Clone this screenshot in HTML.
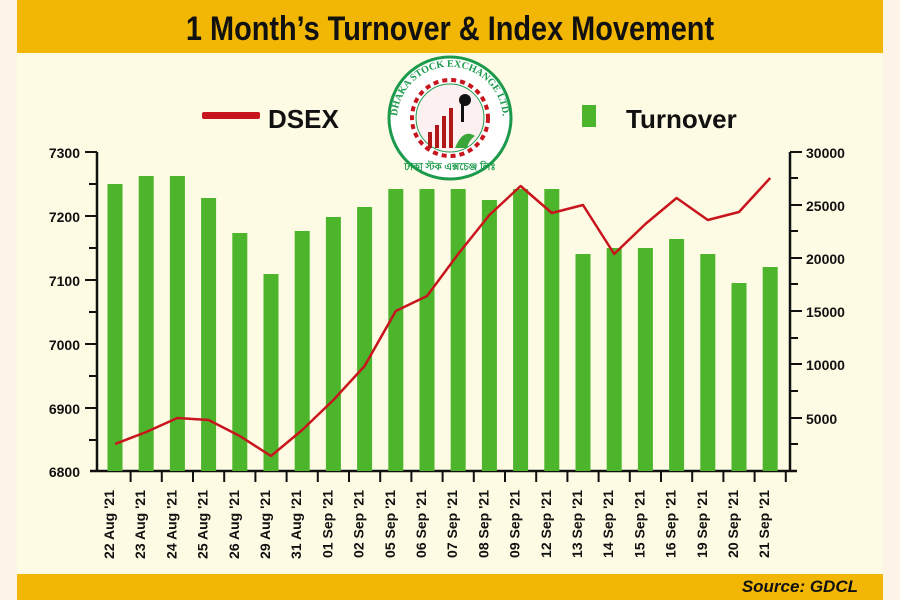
<!DOCTYPE html>
<html><head><meta charset="utf-8"><style>
html,body{margin:0;padding:0;background:#fdf3e6;}
svg{display:block;}
text{font-family:"Liberation Sans Narrow","Liberation Sans",sans-serif;font-weight:bold;}
</style></head><body>
<svg width="900" height="600" xmlns="http://www.w3.org/2000/svg">
<defs><path id="arc" d="M398 130 A53 53 0 1 1 502 130"/></defs>
<rect x="0" y="0" width="900" height="600" fill="#fdf3e6"/>
<rect x="17" y="0" width="866" height="600" fill="#fdfbe3"/>
<rect x="17" y="0" width="866" height="53" fill="#f2b705"/>
<text x="450" y="40" text-anchor="middle" font-size="34" fill="#111" transform="translate(450,0) scale(0.85,1) translate(-450,0)">1 Month’s Turnover &amp; Index Movement</text>
<rect x="17" y="574" width="866" height="26" fill="#f2b705"/>
<text x="858" y="592" text-anchor="end" font-size="17" font-style="italic" fill="#111">Source: GDCL</text>
<rect x="202" y="112" width="58" height="7" fill="#c8151d" rx="2"/>
<text x="268" y="128" font-size="26" fill="#111">DSEX</text>
<rect x="582" y="105" width="14" height="22" fill="#4db52b"/>
<text x="626" y="128" font-size="26" fill="#111">Turnover</text>
<g>
<circle cx="450" cy="118" r="61" fill="#fff" stroke="#1a9a4a" stroke-width="3"/>
<text font-size="10" fill="#1a9a4a" style="font-family:'Liberation Serif',serif"><textPath href="#arc" startOffset="50%" text-anchor="middle">DHAKA STOCK EXCHANGE LTD.</textPath></text>
<circle cx="450" cy="118" r="38" fill="none" stroke="#c8151d" stroke-width="4" stroke-dasharray="5 4"/>
<circle cx="450" cy="118" r="34" fill="#fdf0f0" stroke="#1a9a4a" stroke-width="1"/>
<text x="450" y="170" text-anchor="middle" font-size="10" fill="#1a9a4a">ঢাকা স্টক এক্সচেঞ্জ লিঃ</text>
<rect x="428" y="132" width="4" height="16" fill="#b01818"/>
<rect x="435" y="125" width="4" height="23" fill="#b01818"/>
<rect x="442" y="116" width="4" height="32" fill="#b01818"/>
<rect x="449" y="108" width="4" height="40" fill="#b01818"/>
<path d="M455 148 q8 -20 20 -12 q-6 4 -8 12z" fill="#3aa63a"/>
<rect x="461" y="100" width="3" height="22" fill="#111"/>
<circle cx="465" cy="100" r="6" fill="#111"/>
</g>
<g stroke="#111" stroke-width="2.5" fill="none">
<line x1="97" y1="152" x2="97" y2="472"/>
<line x1="790" y1="152" x2="790" y2="472"/>
<line x1="90" y1="471" x2="797" y2="471"/>
</g>
<g stroke="#111" stroke-width="2">
<line x1="85" y1="152" x2="97" y2="152"/><line x1="89" y1="184" x2="97" y2="184"/>
<line x1="85" y1="216" x2="97" y2="216"/><line x1="89" y1="248" x2="97" y2="248"/>
<line x1="85" y1="280" x2="97" y2="280"/><line x1="89" y1="312" x2="97" y2="312"/>
<line x1="85" y1="344" x2="97" y2="344"/><line x1="89" y1="376" x2="97" y2="376"/>
<line x1="85" y1="408" x2="97" y2="408"/><line x1="89" y1="440" x2="97" y2="440"/>
<line x1="790" y1="152" x2="802" y2="152"/><line x1="790" y1="178" x2="798" y2="178"/>
<line x1="790" y1="205" x2="802" y2="205"/><line x1="790" y1="231" x2="798" y2="231"/>
<line x1="790" y1="258" x2="802" y2="258"/><line x1="790" y1="284" x2="798" y2="284"/>
<line x1="790" y1="311" x2="802" y2="311"/><line x1="790" y1="338" x2="798" y2="338"/>
<line x1="790" y1="364" x2="802" y2="364"/><line x1="790" y1="391" x2="798" y2="391"/>
<line x1="790" y1="418" x2="802" y2="418"/><line x1="790" y1="444" x2="798" y2="444"/>
</g>
<g font-size="14" fill="#111" text-anchor="end">
<text x="80" y="158">7300</text><text x="80" y="222">7200</text><text x="80" y="286">7100</text>
<text x="80" y="350">7000</text><text x="80" y="414">6900</text><text x="80" y="477">6800</text>
</g>
<g font-size="14" fill="#111" text-anchor="start">
<text x="806" y="158">30000</text><text x="806" y="211">25000</text><text x="806" y="264">20000</text>
<text x="806" y="317">15000</text><text x="806" y="370">10000</text><text x="806" y="424">5000</text>
</g>
<g fill="#4db52b" id="bars"></g>
<g id="xt" stroke="#111" stroke-width="2"></g>
<g id="xl" font-size="14" fill="#111" text-anchor="end"></g>
<polyline id="ln" fill="none" stroke="#c8151d" stroke-width="2.5" stroke-linejoin="round"/>
<script>
var tops=[184,176,176,198,233,274,231,217,207,189,189,189,200,189,189,254,248,248,239,254,283,267];
var labs=["22 Aug '21","23 Aug '21","24 Aug '21","25 Aug '21","26 Aug '21","29 Aug '21","31 Aug '21","01 Sep '21","02 Sep '21","05 Sep '21","06 Sep '21","07 Sep '21","08 Sep '21","09 Sep '21","12 Sep '21","13 Sep '21","14 Sep '21","15 Sep '21","16 Sep '21","19 Sep '21","20 Sep '21","21 Sep '21"];
var ly=[444,432,418,420,436,456,430,400,366,311,296,254,215,186,213,205,254,224,198,220,212,178];
var ns="http://www.w3.org/2000/svg",b=document.getElementById("bars"),t=document.getElementById("xt"),l=document.getElementById("xl"),pts=[];
for(var i=0;i<22;i++){var cx=115+31.2*i;
var r=document.createElementNS(ns,"rect");r.setAttribute("x",cx-7.5);r.setAttribute("y",tops[i]);r.setAttribute("width",15);r.setAttribute("height",471-tops[i]);b.appendChild(r);
var k=document.createElementNS(ns,"line");var tx=cx+15.6;k.setAttribute("x1",tx);k.setAttribute("x2",tx);k.setAttribute("y1",471);k.setAttribute("y2",482);t.appendChild(k);
var s=document.createElementNS(ns,"text");var lx=cx-6;s.setAttribute("transform","translate("+(lx+5)+",490) rotate(-90)");s.textContent=labs[i];l.appendChild(s);
pts.push(cx+","+ly[i]);}
document.getElementById("ln").setAttribute("points",pts.join(" "));
</script>
</svg>
</body></html>
